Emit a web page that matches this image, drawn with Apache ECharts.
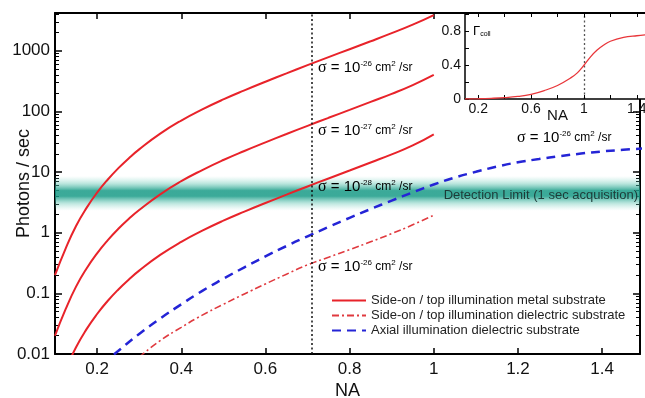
<!DOCTYPE html>
<html>
<head>
<meta charset="utf-8">
<script src="https://cdn.jsdelivr.net/npm/echarts@6/dist/echarts.min.js"></script>
<style>html,body{margin:0;padding:0;background:#fff}#c{width:645px;height:398px}</style>
</head>
<body>
<div id="c"></div>
<script>
// ---- data ----
const naSide = [0.100,0.125,0.150,0.175,0.200,0.225,0.250,0.275,0.300,0.35,0.40,0.45,0.50,0.55,0.60,0.65,0.70,0.75,0.80,0.85,0.90,0.95,1.00];
const metal26 = [0.200,0.543,1.29,2.57,4.57,7.48,11.5,16.8,23.7,43.0,70.8,108,158,223,309,424,579,785,1062,1435,1954,2698,3880];
const metal27 = [0.0200,0.0543,0.129,0.257,0.457,0.748,1.15,1.68,2.37,4.30,7.08,10.8,15.8,22.3,30.9,42.4,57.9,78.5,106,144,195,272,400];
const metal28 = [0.0020,0.00543,0.0129,0.0257,0.0457,0.0748,0.115,0.168,0.237,0.430,0.708,1.08,1.58,2.23,3.09,4.24,5.79,7.85,10.6,14.4,19.6,27.5,42];
const naDiel = [0.30,0.35,0.40,0.45,0.50,0.55,0.60,0.65,0.70,0.75,0.80,0.85,0.90,0.95,1.00];
const dielSide26 = [0.0089,0.0166,0.0275,0.0437,0.066,0.0977,0.143,0.207,0.295,0.394,0.525,0.708,0.966,1.35,1.95];
const naAxial = [0.24,0.25,0.30,0.35,0.40,0.45,0.50,0.55,0.60,0.65,0.70,0.75,0.80,0.85,0.90,0.95,1.00,1.05,1.10,1.15,1.20,1.25,1.30,1.35,1.40,1.45,1.50];
const axial26 = [0.0098,0.0112,0.0214,0.0385,0.066,0.110,0.174,0.269,0.407,0.603,0.871,1.245,1.758,2.455,3.39,4.62,6.24,8.13,10.1,12.3,14.5,16.4,18.3,20.2,21.9,23.3,24.5];
const naInset = [0.10,0.20,0.30,0.40,0.50,0.60,0.70,0.80,0.90,0.95,1.00,1.05,1.10,1.15,1.20,1.30,1.40,1.50];
const gammaColl = [0,0.003,0.008,0.016,0.03,0.055,0.10,0.16,0.25,0.31,0.40,0.50,0.58,0.64,0.685,0.73,0.75,0.765];
const detectionLimit = [2.3, 8.6];
const naMarker = 0.71;
const xTicks = [0.2,0.4,0.6,0.8,1.0,1.2,1.4];
const yMajor = [0.01,0.1,1,10,100,1000];
const insetXTicks = [0.2,0.4,0.6,0.8,1.0,1.2,1.4];
const insetXLabels = [0.2,0.6,1.0,1.4];
const insetYTicks = [0,0.2,0.4,0.6,0.8,1.0];
const insetYLabels = [0,0.4,0.8];
const legendNames = ['Side-on / top illumination metal substrate','Side-on / top illumination dielectric substrate','Axial illumination dielectric substrate'];

const yMinor = [];
for (let e = -2; e <= 3; e++) for (let m = 2; m <= 9; m++) {
  const v = Number((m * Math.pow(10, e)).toPrecision(2));
  if (v < 4200) yMinor.push(v);
}
const pairs = (xs, ys) => xs.map((x, i) => [x, ys[i]]);
const fmt = v => String(Number(Number(v).toPrecision(3)));
const FONT = '"Liberation Sans", Arial, Helvetica, sans-serif';

const chart = echarts.init(document.getElementById('c'), null, {renderer: 'canvas'});
const axLine = {lineStyle: {color: '#000', width: 2}};
const sigmaRich = {
  s: {fontFamily: '"Liberation Serif", "DejaVu Serif", serif', fontSize: 16, color: '#222'},
  n: {fontFamily: FONT, fontSize: 15, color: '#222'},
  e: {fontFamily: FONT, fontSize: 8, color: '#222', verticalAlign: 'top', padding: [0,0,6,0]},
  u: {fontFamily: FONT, fontSize: 12, color: '#222'}
};
function sigmaLabel(x, y, exp) {
  return {type: 'text', x: x, y: y, z: 100, style: {
    text: '{s|σ}{n| = 10}{e|-' + exp + '}{u| cm}{e|2}{u| /sr}', rich: sigmaRich,
    verticalAlign: 'middle', align: 'left'}};
}
const SM = 0.5;

const option = {
  animation: false,
  backgroundColor: '#fff',
  textStyle: {fontFamily: FONT},
  grid: [
    {left: 55, right: 5, top: 13, bottom: 44, outerBoundsMode: 'none', containLabel: false},
    {left: 465, top: 13, width: 185, height: 86, show: true, backgroundColor: '#fff', borderWidth: 0, z: 5, outerBoundsMode: 'none', containLabel: false}
  ],
  legend: {
    data: legendNames, orient: 'vertical', left: 331, top: 294, padding: 0,
    itemWidth: 34, itemHeight: 12, itemGap: 2, selectedMode: false,
    itemStyle: {opacity: 0},
    textStyle: {fontSize: 13, color: '#222', lineHeight: 12}
  },
  xAxis: [
    {gridIndex: 0, type: 'value', min: 0.1, max: 1.49, position: 'bottom', axisLine: axLine,
     axisTick: {inside: true, length: 6, customValues: xTicks, lineStyle: {color: '#000', width: 1.5}},
     axisLabel: {customValues: xTicks, fontSize: 17, color: '#111', margin: 7, formatter: fmt},
     splitLine: {show: false}, name: 'NA', nameLocation: 'middle', nameGap: 28, nameMoveOverlap: false,
     nameTextStyle: {fontSize: 18, color: '#111'}},
    {gridIndex: 0, type: 'value', min: 0.1, max: 1.49, position: 'top', axisLine: axLine,
     axisTick: {inside: true, length: 6, customValues: xTicks, lineStyle: {color: '#000', width: 1.5}},
     axisLabel: {show: false}, splitLine: {show: false}},
    {gridIndex: 1, type: 'value', min: 0.1, max: 1.5, position: 'bottom', z: 6,
     axisLine: {lineStyle: {color: '#000', width: 1.5}},
     axisTick: {inside: true, length: 4, customValues: insetXTicks, lineStyle: {color: '#000'}},
     axisLabel: {customValues: insetXLabels, fontSize: 14, color: '#111', margin: 3, formatter: fmt},
     splitLine: {show: false}, name: 'NA', nameLocation: 'middle', nameGap: 9, nameMoveOverlap: false,
     nameTextStyle: {fontSize: 15, color: '#111'}},
    {gridIndex: 1, type: 'value', min: 0.1, max: 1.5, position: 'top', z: 6, axisLine: axLine,
     axisTick: {inside: true, length: 4, customValues: insetXTicks, lineStyle: {color: '#000'}},
     axisLabel: {show: false}, splitLine: {show: false}}
  ],
  yAxis: [
    {gridIndex: 0, type: 'log', min: 0.01, max: 4200, position: 'left', axisLine: axLine,
     axisTick: {inside: true, length: 7, customValues: yMajor, lineStyle: {color: '#000', width: 1.5}},
     axisLabel: {customValues: yMajor, fontSize: 17, color: '#111', margin: 5, formatter: fmt},
     splitLine: {show: false}, minorTick: {show: false},
     name: 'Photons / sec', nameLocation: 'middle', nameGap: 22, nameMoveOverlap: false,
     nameTextStyle: {fontSize: 18, color: '#111'}},
    {gridIndex: 0, type: 'log', min: 0.01, max: 4200, position: 'left', offset: 0, axisLine: {show: false},
     axisTick: {inside: true, length: 4, customValues: yMinor, lineStyle: {color: '#000', width: 1}},
     axisLabel: {show: false}, splitLine: {show: false}},
    {gridIndex: 0, type: 'log', min: 0.01, max: 4200, position: 'right', offset: 0, axisLine: axLine,
     axisTick: {inside: true, length: 7, customValues: yMajor, lineStyle: {color: '#000', width: 1.5}},
     axisLabel: {show: false}, splitLine: {show: false}},
    {gridIndex: 0, type: 'log', min: 0.01, max: 4200, position: 'right', offset: 0, axisLine: {show: false},
     axisTick: {inside: true, length: 4, customValues: yMinor, lineStyle: {color: '#000', width: 1}},
     axisLabel: {show: false}, splitLine: {show: false}},
    {gridIndex: 1, type: 'value', min: 0, max: 1.02, position: 'left', z: 6,
     axisLine: {lineStyle: {color: '#000', width: 1.5}},
     axisTick: {inside: true, length: 4, customValues: insetYTicks, lineStyle: {color: '#000'}},
     axisLabel: {customValues: insetYLabels, fontSize: 14, color: '#111', margin: 4, formatter: fmt},
     splitLine: {show: false}}
  ],
  series: [
    {name: legendNames[0], type: 'line', data: pairs(naSide, metal26), smooth: SM, showSymbol: false, symbol: 'none', z: 2,
     color: '#e8232a', lineStyle: {color: '#e8232a', width: 2}},
    {name: legendNames[0], type: 'line', data: pairs(naSide, metal27), smooth: SM, showSymbol: false, symbol: 'none', z: 2,
     color: '#e8232a', lineStyle: {color: '#e8232a', width: 2}},
    {name: legendNames[0], type: 'line', data: pairs(naSide, metal28), smooth: SM, showSymbol: false, symbol: 'none', z: 2,
     color: '#e8232a', lineStyle: {color: '#e8232a', width: 2}},
    {name: legendNames[1], type: 'line', data: pairs(naDiel, dielSide26), smooth: SM, showSymbol: false, symbol: 'none', z: 2,
     color: '#e03a3f', lineStyle: {color: '#e03a3f', width: 1.6, type: [7,3,2,3]}},
    {name: legendNames[2], type: 'line', data: pairs(naAxial, axial26), smooth: SM, showSymbol: false, symbol: 'none', z: 2,
     color: '#2424d6', lineStyle: {color: '#2424d6', width: 2.5, type: [9,6]}},
    {name: 'band', type: 'line', data: [[0.5, 4]], symbol: 'none', lineStyle: {width: 0, opacity: 0}, z: 3, silent: true,
     markArea: {silent: true, label: {show: false},
       itemStyle: {color: {type: 'linear', x: 0, y: 0, x2: 0, y2: 1, colorStops: [
         {offset: 0, color: 'rgba(130,215,200,0)'},
         {offset: 0.22, color: 'rgba(80,190,170,0.40)'},
         {offset: 0.42, color: 'rgba(25,155,135,0.85)'},
         {offset: 0.58, color: 'rgba(25,155,135,0.85)'},
         {offset: 0.78, color: 'rgba(80,190,170,0.40)'},
         {offset: 1, color: 'rgba(130,215,200,0)'}]}},
       data: [[{yAxis: detectionLimit[1]}, {yAxis: detectionLimit[0]}]]}},
    {name: 'marker', type: 'line', data: [[0.5, 4]], symbol: 'none', lineStyle: {width: 0, opacity: 0}, z: 4, silent: true,
     markLine: {silent: true, symbol: ['none','none'], label: {show: false},
       lineStyle: {color: '#111', type: [2,2.5], width: 1.5}, data: [{xAxis: naMarker}]}},
    {name: 'gamma', type: 'line', xAxisIndex: 2, yAxisIndex: 4, data: pairs(naInset, gammaColl), smooth: 0.4,
     symbol: 'none', z: 7, color: '#e8363a', lineStyle: {color: '#e8363a', width: 1.3},
     markLine: {silent: true, symbol: ['none','none'], label: {show: false},
       lineStyle: {color: '#555', type: [2,2.5], width: 1.3}, data: [{xAxis: 1.0}]}}
  ],
  graphic: [
    sigmaLabel(318, 68, '26'),
    sigmaLabel(318, 131, '27'),
    sigmaLabel(318, 187, '28'),
    sigmaLabel(318, 267, '26'),
    sigmaLabel(517, 138, '26'),
    {type: 'text', x: 638, y: 195, z: 100, style: {text: 'Detection Limit (1 sec acquisition)', font: '13px ' + FONT,
      fill: '#1d3b38', align: 'right', verticalAlign: 'middle'}},
    {type: 'text', x: 473, y: 31, z: 100, style: {text: '{g|Γ}{c|coll}', verticalAlign: 'middle', align: 'left',
      rich: {g: {fontSize: 13, fontFamily: FONT, color: '#111'}, c: {fontSize: 7, fontFamily: FONT, color: '#111', verticalAlign: 'bottom', padding: [6,0,0,0]}}}}
  ]
};
chart.setOption(option);
</script>
</body>
</html>
